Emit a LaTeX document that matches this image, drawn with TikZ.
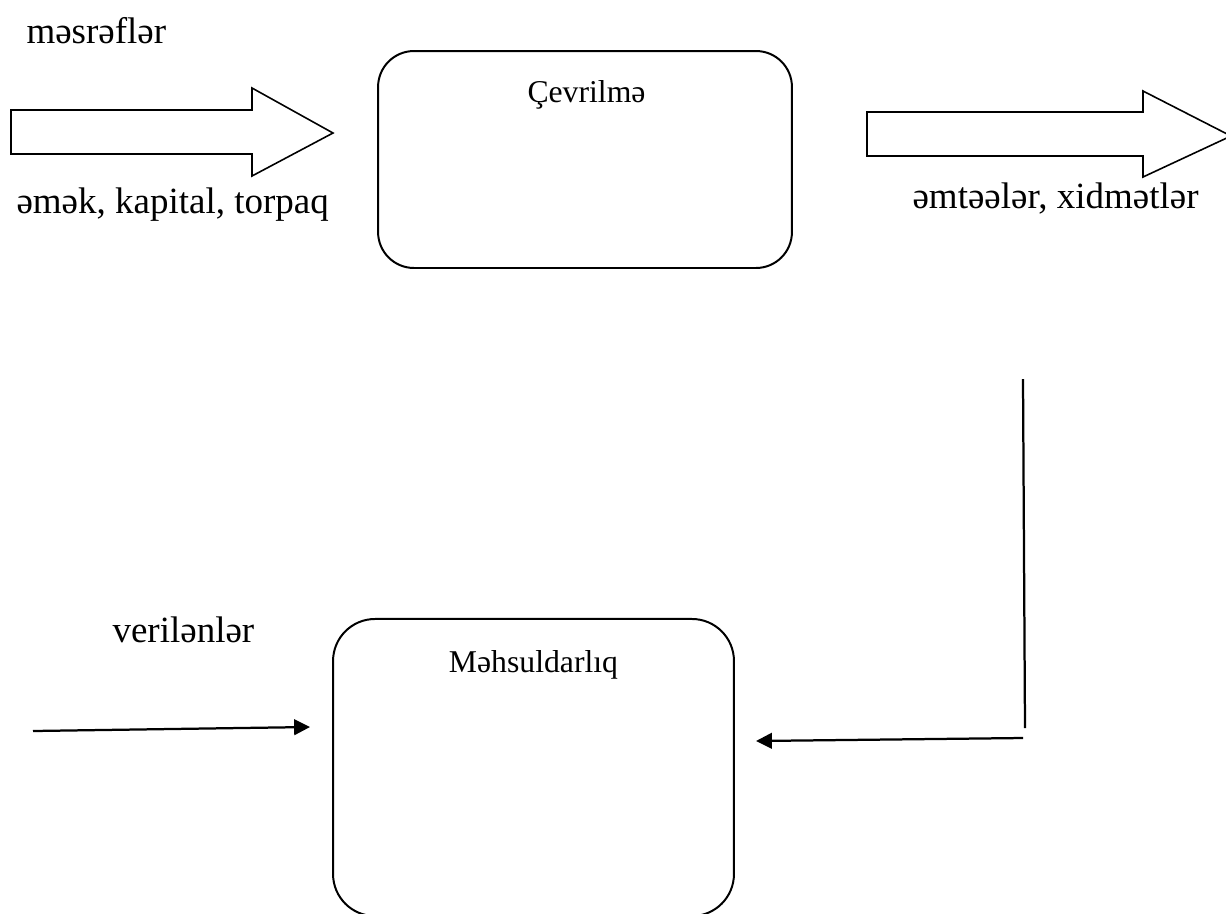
\documentclass[tikz,border=0pt]{standalone}
\usepackage{fontspec}
\setmainfont{Liberation Serif}
\usetikzlibrary{arrows.meta}
\begin{document}
\begin{tikzpicture}[x=0.37838pt,y=-0.37838pt,
  procbox/.style={draw, line width=0.75pt, inner sep=0pt, outer sep=0pt},
  blockarrow/.style={draw, line width=0.6pt, line join=miter},
  lbl/.style={font=\fontsize{14}{16}\selectfont, inner sep=0pt, anchor=base west},
  boxlbl/.style={font=\fontsize{12}{14}\selectfont, inner sep=0pt, anchor=base},
  conn/.style={line width=0.85pt, -{Triangle[length=6pt,width=5.9pt]}},
  plain/.style={line width=0.85pt}]
\useasboundingbox (0,0) rectangle (1226,913);
\clip (0,0) rectangle (1226,913);

% process boxes
\node[procbox, rounded corners=13.6pt, minimum width=156.6pt, minimum height=82.1pt] (cev) at (585,159.5) {};
\node[procbox, rounded corners=15.9pt, minimum width=151.7pt, minimum height=112.4pt] (meh) at (533.5,767.5) {};

% box labels
\node[boxlbl] (cevt) at (586.5,102) {Çevrilmə};
\node[boxlbl] (meht) at (533.5,672) {Məhsuldarlıq};

% block arrows
\draw[blockarrow] (11,110) -- (252,110) -- (252,88) -- (333,133) -- (252,176) -- (252,154) -- (11,154) -- cycle;
\draw[blockarrow] (867,112) -- (1143,112) -- (1143,91) -- (1231,136) -- (1143,177) -- (1143,156) -- (867,156) -- cycle;

% outer labels
\node[lbl] (mesr) at (26,43) {məsrəflər};
\node[lbl] (emek) at (16,213) {əmək, kapital, torpaq};
\node[lbl] (emte) at (912,208) {əmtəələr, xidmətlər};
\node[lbl] (veri) at (112,642) {verilənlər};

% connectors
\coordinate (vin) at (33,731);
\coordinate (vend) at (310,727);
\draw[conn] (vin) -- (vend);

\coordinate (fbtop) at (1023,379);
\coordinate (fbbot) at (1025,728);
\draw[plain] (fbtop) -- (fbbot);

\coordinate (fbstart) at (1023,738);
\coordinate (fbend) at (756,741);
\draw[conn] (fbstart) -- (fbend);
\end{tikzpicture}
\end{document}
